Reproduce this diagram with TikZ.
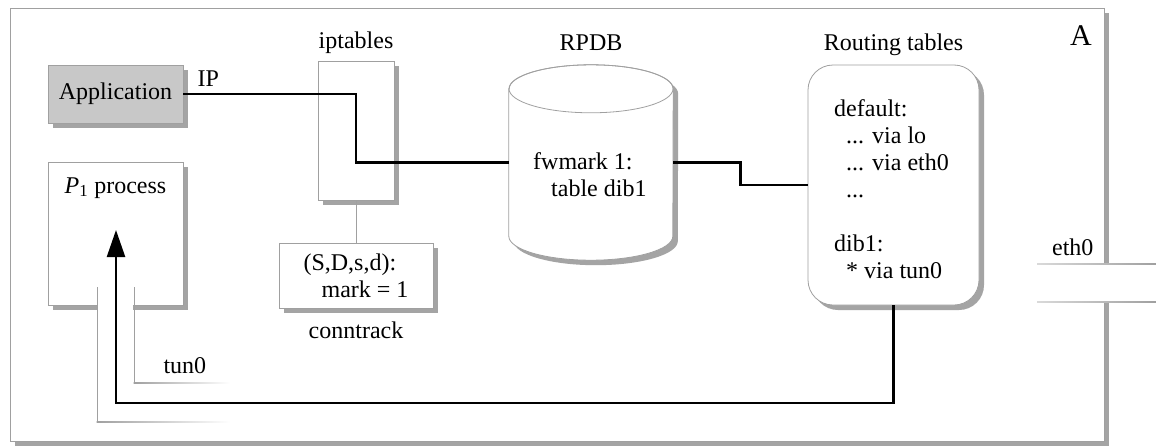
\documentclass[tikz,border=0pt]{standalone}
\usepackage{fontspec}
\setmainfont{Liberation Serif}
\usetikzlibrary{arrows.meta, shadows, calc, positioning}
\definecolor{edgec}{HTML}{A0A0A0}
\definecolor{shadc}{HTML}{A4A4A4}
\definecolor{appc}{HTML}{C8C8C8}

\begin{document}
\begin{tikzpicture}[x=1pt, y=-1pt, font=\fontsize{24}{27}\selectfont,
  shad/.style={drop shadow={shadow xshift=5pt, shadow yshift=-5pt,
               fill=shadc, opacity=1}},
  box/.style={draw=edgec, fill=white, line width=0.8pt, inner sep=0pt, shad},
  link/.style={black, line width=2.4pt},
  tunl/.style={draw=edgec, line width=0.8pt}]
  \useasboundingbox (0,0) rectangle (1156,447);
  % host A
  \draw[box] (10,8) rectangle (1104,441);
  \node[anchor=base, font=\fontsize{30}{32}\selectfont] (hostA) at (1081,45) {A};
  \fill[white] (1100,265) rectangle (1115,301);
  \shade[left color=edgec!40, right color=edgec] (1037,263.6) rectangle (1156,264.4);
  \shade[left color=edgec!40, right color=edgec] (1037,301.6) rectangle (1156,302.4);
  \node[anchor=base east] (eth) at (1097,255) {eth0};
  % processes
  \node[box, fill=appc, minimum width=135pt, minimum height=58pt] (app) at (115.5,94) {Application};
  \node[anchor=base west] (ip) at (194,86) {IP};
  \node[box, minimum width=135pt, minimum height=143pt] (p1) at (115.5,233.5) {};
  \node[anchor=base] (p1lbl) at (115.5,193) {\textit{P}\textsubscript{1} process};
  \fill[white] (98,299) rectangle (133,313);
  % tun0
  \draw[tunl] (97,287) -- (97,422);
  \draw[tunl] (134,287) -- (134,383);
  \shade[left color=edgec, right color=white] (96.6,421.6) rectangle (230,422.4);
  \shade[left color=edgec, right color=white] (133.6,382.6) rectangle (230,383.4);
  \node[anchor=base west] (tunlbl) at (160,373) {tun0};
  % netfilter
  \node[box, minimum width=76pt, minimum height=139pt] (ipt) at (356,130.5) {};
  \node[anchor=base] (iptlbl) at (356,48) {iptables};
  \node[box, minimum width=154pt, minimum height=65pt, align=left] (ct) at (356,275.5)
    {(S,D,s,d):\\\hspace*{18pt}mark = 1};
  \node[anchor=base] (ctlbl) at (356,338) {conntrack};
  \draw[edgec, line width=0.8pt] (ipt.south) -- (ct.north);
  % RPDB
  \node[minimum width=164pt, minimum height=147pt, inner sep=0pt] (rpdb) at (591,162.5) {};
  \draw[box] (rpdb.north west) -- (rpdb.south west)
    arc[start angle=180, end angle=360, x radius=82pt, y radius=24pt]
    -- (rpdb.north east)
    arc[start angle=0, end angle=180, x radius=82pt, y radius=24pt] -- cycle;
  \draw[edgec, line width=0.8pt] (rpdb.north) ellipse [x radius=82pt, y radius=24pt];
  \node[anchor=base] (rpdblbl) at (591,50) {RPDB};
  \node[anchor=north west, align=left, inner sep=0pt] (rpdbtxt) at (533,152)
    {fwmark 1:\\\hspace*{18pt}table dib1};
  % routing tables
  \node[box, rounded corners=25pt, minimum width=171pt, minimum height=240pt] (rt) at (893.5,185) {};
  \node[anchor=base] (rtlbl) at (893.5,50) {Routing tables};
  \node[anchor=north west, align=left, inner sep=0pt] (rttxt) at (834,99)
    {default:\\\hspace*{12pt}... via lo\\\hspace*{12pt}... via eth0\\\hspace*{12pt}...\\[27pt]
     dib1:\\\hspace*{12pt}* via tun0};
  % packet path
  \draw[link] (app.east) -- (app.east -| ipt.center) -- (ipt.center |- rpdb.west) -- (rpdb.west);
  \draw[link] (rpdb.east) -| ($(rpdb.east)!0.5!(rt.west)$) |- (rt.west);
  \coordinate (bend) at (116,403);
  \coordinate (tip) at (116,230);
  \draw[link, -{Triangle[length=27pt, width=18pt]}] (rt.south) |- (bend) -- (tip);
\end{tikzpicture}
\end{document}
